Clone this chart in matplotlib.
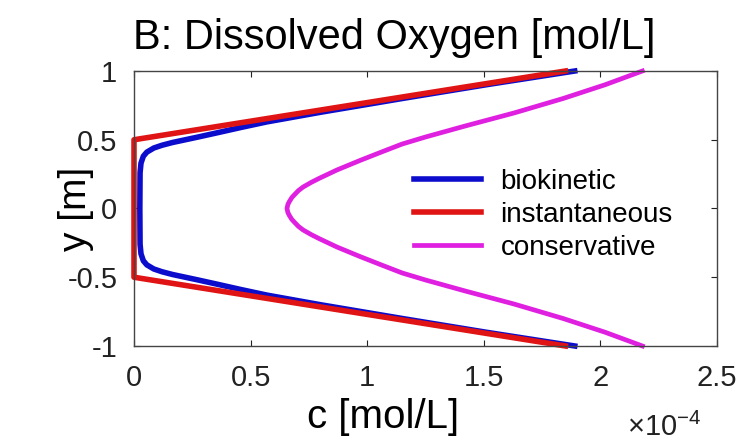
import numpy as np
import matplotlib.pyplot as plt

plt.rcParams['font.family'] = ['Liberation Sans', 'DejaVu Sans']
plt.rcParams['axes.unicode_minus'] = False
plt.rcParams['mathtext.fontset'] = 'custom'
plt.rcParams['mathtext.rm'] = 'Liberation Sans'

# concentration profiles across the channel, c in units of 1e-4 mol/L
y_bio = [-1.00, -0.90, -0.80, -0.70, -0.63, -0.59, -0.55, -0.52, -0.50, -0.48,
         -0.46, -0.44, -0.41, -0.38, -0.33, -0.26, 0.00,
         0.26, 0.33, 0.38, 0.41, 0.44, 0.46, 0.48, 0.50, 0.52,
         0.55, 0.59, 0.63, 0.70, 0.80, 0.90, 1.00]
c_bio = [1.89, 1.51, 1.15, 0.80, 0.57, 0.46, 0.355, 0.275, 0.22, 0.165,
         0.12, 0.085, 0.055, 0.04, 0.03, 0.026, 0.025,
         0.026, 0.03, 0.04, 0.055, 0.085, 0.12, 0.165, 0.22, 0.275,
         0.355, 0.46, 0.57, 0.80, 1.15, 1.51, 1.89]

y_inst = [-1.0, -0.5, 0.5, 1.0]
c_inst = [1.85, 0.0, 0.0, 1.85]

y_cons = [-1.00, -0.90, -0.80, -0.695, -0.60, -0.52, -0.469, -0.41, -0.35,
          -0.28, -0.22, -0.19, -0.156, -0.13, -0.10, -0.08, -0.05, -0.03,
          0.00,
          0.03, 0.05, 0.08, 0.10, 0.13, 0.156, 0.19, 0.22, 0.28,
          0.35, 0.41, 0.469, 0.52, 0.60, 0.695, 0.80, 0.90, 1.00]
c_cons = [2.18, 2.02, 1.84, 1.63, 1.42, 1.25, 1.15, 1.06, 0.97,
          0.87, 0.795, 0.76, 0.725, 0.705, 0.688, 0.677, 0.666, 0.660,
          0.656,
          0.660, 0.666, 0.677, 0.688, 0.705, 0.725, 0.76, 0.795, 0.87,
          0.97, 1.06, 1.15, 1.25, 1.42, 1.63, 1.84, 2.02, 2.18]

x_ticks = [0, 0.5, 1, 1.5, 2, 2.5]
x_ticklabels = ['0', '0.5', '1', '1.5', '2', '2.5']
y_ticks = [-1, -0.5, 0, 0.5, 1]
y_ticklabels = ['-1', '-0.5', '0', '0.5', '1']

fig = plt.figure(figsize=(7.42, 4.43), dpi=100)
ax = fig.add_axes([0.1806, 0.219, 0.7857, 0.6207])

ax.plot(c_bio, y_bio, color='#0c0ccc', linewidth=4.0, label='biokinetic',
        clip_on=False, solid_joinstyle='round')
ax.plot(c_inst, y_inst, color='#e01414', linewidth=4.0, label='instantaneous',
        clip_on=False)
ax.plot(c_cons, y_cons, color='#e020e0', linewidth=3.4, label='conservative',
        clip_on=False, solid_joinstyle='round')

ax.set_xlim(0, 2.5)
ax.set_ylim(-1, 1)
ax.set_xticks(x_ticks)
ax.set_xticklabels(x_ticklabels)
ax.set_yticks(y_ticks)
ax.set_yticklabels(y_ticklabels)
ax.tick_params(direction='in', length=4, width=0.8, top=True, right=True,
               labelsize=21, colors='#222222')
ax.tick_params(axis='x', pad=13)
ax.tick_params(axis='y', pad=12)
for s in ax.spines.values():
    s.set_linewidth(1.0)
    s.set_color('#444444')

ax.set_xlabel('c [mol/L]', fontsize=29)
ax.xaxis.set_label_coords(0.427, -0.19)
ax.set_ylabel('y [m]', fontsize=28)
ax.yaxis.set_label_coords(-0.068, 0.5)

fig.text(0.531, 0.915, 'B: Dissolved Oxygen [mol/L]', fontsize=30,
         ha='center', va='center')
fig.text(0.945, 0.035, r'$\times10^{-4}$', fontsize=21, ha='right',
         va='center', color='#222222')

leg = ax.legend(loc='upper left', bbox_to_anchor=(0.443, 0.725), fontsize=20,
                frameon=True, fancybox=False, edgecolor='white',
                facecolor='white', framealpha=1.0, handlelength=2.4,
                handletextpad=0.7, labelspacing=0.25, borderpad=0.3)

fig.savefig('out.png', dpi=100)
